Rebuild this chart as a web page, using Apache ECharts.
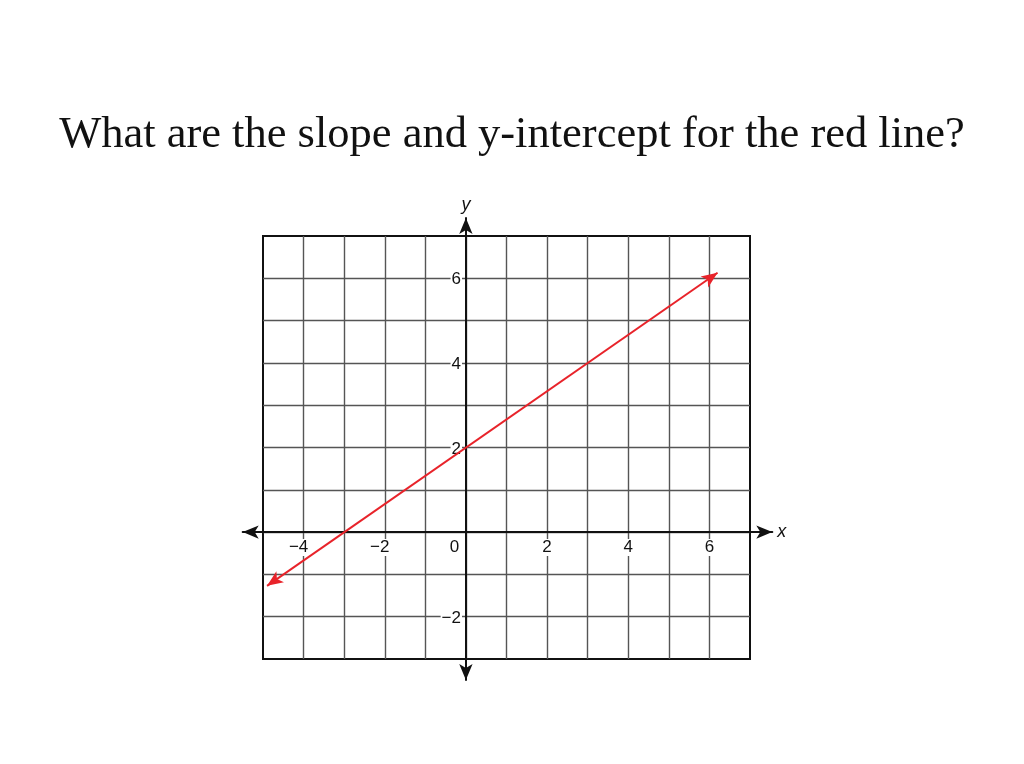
<!DOCTYPE html>
<html>
<head>
<meta charset="utf-8">
<script src="https://cdn.jsdelivr.net/npm/echarts@6/dist/echarts.min.js"></script>
<style>html,body{margin:0;padding:0;background:#fff;}#c{width:1024px;height:764px;}</style>
</head>
<body>
<div id="c"></div>
<script>
var titleText = 'What are the slope and y-intercept for the red line?';
var xRange = [-5, 7];
var yRange = [-3, 7];
var xLabelValues = [-4, -2, 0, 2, 4, 6];
var yLabelValues = [-2, 2, 4, 6];
var lineStart = [-4.9, -1.27];
var lineEnd = [6.2, 6.13];

var chart = echarts.init(document.getElementById('c'));
function fmtNum(v){ return v < 0 ? '\u2212' + Math.abs(v) : String(v); }
var labelFont = 'Liberation Sans';
var fs = 17;
chart.setOption({
  backgroundColor: '#fff',
  animation: false,
  title: {
    text: titleText, left: 'center', top: 108,
    textStyle: { fontFamily: 'Liberation Serif', fontSize: 44.5, fontWeight: 'normal', color: '#111' }
  },
  grid: [
    { left: 263, right: 274, top: 236, bottom: 105, show: true, borderColor: '#111', borderWidth: 2, backgroundColor: 'transparent', containLabel: false },
    { left: 242.7, right: 1024 - 772.3, top: 218, bottom: 764 - 680, show: false }
  ],
  xAxis: [
    {
      type: 'value', gridIndex: 0, min: xRange[0], max: xRange[1], interval: 1,
      position: 'bottom', offset: -127,
      axisLine: { show: false, onZero: false },
      axisTick: { show: false },
      splitLine: { show: true, showMinLine: false, showMaxLine: false, lineStyle: { color: '#555', width: 1.4 } },
      axisLabel: {
        show: true, margin: 7, fontFamily: labelFont, fontSize: fs, color: '#111',
        showMinLabel: false, showMaxLabel: false,
        formatter: function (v) {
          if (xLabelValues.indexOf(v) < 0) return '';
          if (v === 0) return '{z|0}';
          if (v < 0) return '{n|' + fmtNum(v) + '}';
          return '{p|' + v + '}';
        },
        rich: {
          n: { fontFamily: labelFont, fontSize: fs, color: '#111', backgroundColor: '#fff', padding: [0, 10, 0, 0] },
          z: { fontFamily: labelFont, fontSize: fs, color: '#111', padding: [0, 23, 0, 0] },
          p: { fontFamily: labelFont, fontSize: fs, color: '#111', backgroundColor: '#fff', padding: [0, 1, 0, 1] }
        }
      }
    },
    {
      type: 'value', gridIndex: 1, min: -5.5, max: 7.55,
      axisLine: { show: true, onZero: true, symbol: ['arrow', 'arrow'], symbolSize: [10, 16], lineStyle: { color: '#111', width: 2 } },
      axisTick: { show: false }, splitLine: { show: false }, axisLabel: { show: false },
      name: 'x', nameLocation: 'end', nameGap: 5,
      nameTextStyle: { fontFamily: labelFont, fontStyle: 'italic', fontSize: 18, color: '#111', verticalAlign: 'middle' }
    }
  ],
  yAxis: [
    {
      type: 'value', gridIndex: 0, min: yRange[0], max: yRange[1], interval: 1,
      position: 'left', offset: -203,
      axisLine: { show: false, onZero: false },
      axisTick: { show: false },
      splitLine: { show: true, showMinLine: false, showMaxLine: false, lineStyle: { color: '#555', width: 1.4 } },
      axisLabel: {
        show: true, margin: 4, fontFamily: labelFont, fontSize: fs, color: '#111',
        showMinLabel: false, showMaxLabel: false,
        formatter: function (v) { return yLabelValues.indexOf(v) < 0 ? '' : '{y|' + fmtNum(v) + '}'; },
        rich: {
          y: { fontFamily: labelFont, fontSize: fs, color: '#111', backgroundColor: '#fff', padding: [3, 1, 0, 1] }
        }
      }
    },
    {
      type: 'value', gridIndex: 1, min: -3.5, max: 7.43,
      axisLine: { show: true, onZero: true, symbol: ['arrow', 'arrow'], symbolSize: [10, 16], lineStyle: { color: '#111', width: 2 } },
      axisTick: { show: false }, splitLine: { show: false }, axisLabel: { show: false },
      name: 'y', nameLocation: 'end', nameGap: 4,
      nameTextStyle: { fontFamily: labelFont, fontStyle: 'italic', fontSize: 18, color: '#111' }
    }
  ],
  series: [
    {
      type: 'line', xAxisIndex: 0, yAxisIndex: 0, data: [], silent: true,
      markLine: {
        silent: true, symbol: ['arrow', 'arrow'], symbolSize: [10, 16],
        label: { show: false },
        lineStyle: { color: '#e8232a', width: 2, type: 'solid' },
        data: [[{ coord: lineStart }, { coord: lineEnd }]]
      }
    }
  ]
});
</script>
</body>
</html>
